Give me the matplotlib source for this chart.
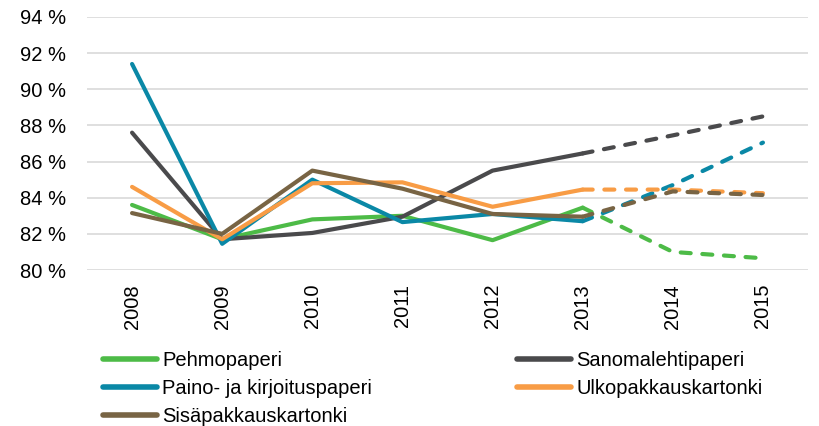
import matplotlib
matplotlib.use("Agg")
import matplotlib.pyplot as plt
from matplotlib.lines import Line2D

plt.rcParams['font.family'] = ['Liberation Sans', 'DejaVu Sans']

years = ['2008', '2009', '2010', '2011', '2012', '2013', '2014', '2015']
# index of the last actual year, after that the values are forecasts (dashed)
last_actual = 5

series_names = ['Pehmopaperi', 'Sanomalehtipaperi', 'Paino- ja kirjoituspaperi',
                'Ulkopakkauskartonki', 'Sisäpakkauskartonki']
pehmo = [83.6, 81.7, 82.8, 83.0, 81.65, 83.45, 81.0, 80.65]
sanomalehti = [87.6, 81.7, 82.05, 82.95, 85.5, 86.45, 87.45, 88.5]
paino = [91.4, 81.45, 85.0, 82.65, 83.1, 82.7, 84.7, 87.05]
ulko = [84.6, 81.7, 84.8, 84.85, 83.5, 84.45, 84.45, 84.25]
sisa = [83.15, 82.0, 85.5, 84.5, 83.1, 82.95, 84.35, 84.15]
series_values = [pehmo, sanomalehti, paino, ulko, sisa]
colors = ['#4dbb47', '#4a4a4c', '#0a88a6', '#f89c45', '#786444']

y_ticks = [80, 82, 84, 86, 88, 90, 92, 94]

fig = plt.figure(figsize=(8.2, 4.26), dpi=100)
ax = fig.add_axes([87 / 820, 1 - 270 / 426, 721 / 820, 253 / 426])

x = list(range(len(years)))
handles = {}
for name, vals, col in zip(series_names, series_values, colors):
    ax.plot(x[:last_actual + 1], vals[:last_actual + 1], color=col, lw=3,
            solid_capstyle='round', solid_joinstyle='round', zorder=3)
    ax.plot(x[last_actual:], vals[last_actual:], color=col, lw=3,
            dashes=(2.4, 2.8), dash_capstyle='round', zorder=3)
    handles[name] = Line2D([], [], color=col, lw=4, solid_capstyle='round')

ax.set_xlim(-0.5, len(years) - 0.5)
ax.set_ylim(80, 94)
ax.set_yticks(y_ticks)
ax.set_yticklabels([f'{v} %' for v in y_ticks])
ax.set_xticks(x)
ax.set_xticklabels(years, rotation=90)
ax.grid(axis='y', color='#d9d9d9', lw=1.2, zorder=0)
ax.set_axisbelow(True)
for s in ax.spines.values():
    s.set_visible(False)
ax.tick_params(axis='both', length=0, labelsize=14.5, colors='#000000')
ax.tick_params(axis='y', pad=15)
ax.tick_params(axis='x', pad=10)

leg_kw = dict(frameon=False, fontsize=14.5, handlelength=2.7, handletextpad=0.25,
              labelspacing=0.45, borderpad=0, borderaxespad=0, loc='upper left')
left_names = ['Pehmopaperi', 'Paino- ja kirjoituspaperi', 'Sisäpakkauskartonki']
right_names = ['Sanomalehtipaperi', 'Ulkopakkauskartonki']
fig.legend([handles[n] for n in left_names], left_names,
           bbox_to_anchor=(103 / 820, 1 - 351 / 426), **leg_kw)
fig.legend([handles[n] for n in right_names], right_names,
           bbox_to_anchor=(517 / 820, 1 - 351 / 426), **leg_kw)

fig.savefig('out.png', dpi=100)
